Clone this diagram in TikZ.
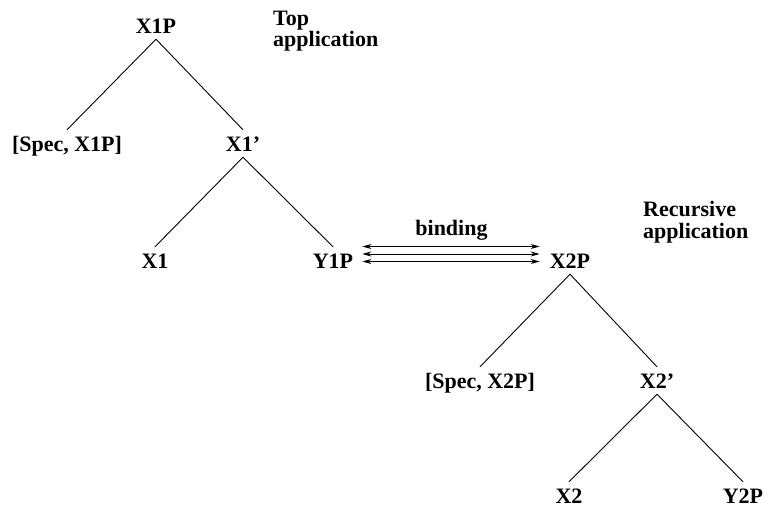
\documentclass[tikz,border=0pt]{standalone}
\usepackage{fontspec}
\setmainfont{Liberation Serif}
\usetikzlibrary{arrows.meta}
\begin{document}
\begin{tikzpicture}[x=1pt,y=-1pt,
		cat/.style={font=\fontsize{22pt}{26pt}\selectfont\bfseries,anchor=base,text height=15pt,text depth=0pt,inner sep=6pt},
		note/.style={font=\fontsize{22pt}{21.5pt}\selectfont\bfseries,anchor=base west,align=left,inner sep=0pt},
		branch/.style={line width=0.9pt},
		bind/.style={line width=0.9pt,shorten <=3pt,shorten >=4pt,{Stealth[length=9pt,width=5pt]}-{Stealth[length=9pt,width=5pt]}}]
		\useasboundingbox (0,0) rectangle (764,509);
		\node[cat] (X1P) at (156,33) {X1P};
		\node[cat] (spec1) at (67,151) {[Spec, X1P]};
		\node[cat] (X1bar) at (243,151) {X1'};
		\node[cat] (X1) at (155,268) {X1};
		\node[cat] (Y1P) at (333,268) {Y1P};
		\node[cat] (X2P) at (570,268) {X2P};
		\node[cat] (spec2) at (480,388) {[Spec, X2P]};
		\node[cat] (X2bar) at (657,388) {X2'};
		\node[cat] (X2) at (569,503) {X2};
		\node[cat] (Y2P) at (743,503) {Y2P};
		\node[note] (top) at (273,46.5) {Top\\application};
		\node[note] (rec) at (643,238) {Recursive\\application};
		\draw[branch](X1P.south)--(spec1.north);
		\draw[branch](X1P.south)--(X1bar.north);
		\draw[branch](X1bar.south)--(X1.north);
		\draw[branch](X1bar.south)--(Y1P.north);
		\draw[branch](X2P.south)--(spec2.north);
		\draw[branch](X2P.south)--(X2bar.north);
		\draw[branch](X2bar.south)--(X2.north);
		\draw[branch](X2bar.south)--(Y2P.north);
		\draw[bind]([yshift=-1pt]Y1P.east)--([yshift=-1pt]X2P.west);
		\draw[bind]([yshift=6.5pt]Y1P.east)--([yshift=6.5pt]X2P.west) node[cat,midway,inner sep=0pt,yshift=19pt] (bd) {binding};
		\draw[bind]([yshift=14pt]Y1P.east)--([yshift=14pt]X2P.west);
	    \end{tikzpicture}
\end{document}
